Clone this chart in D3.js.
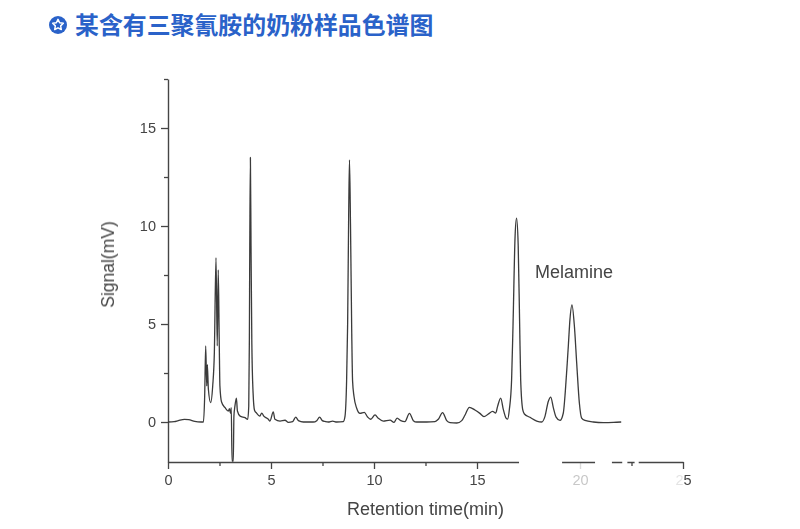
<!DOCTYPE html>
<html><head><meta charset="utf-8">
<script src="https://cdn.jsdelivr.net/npm/d3@7"></script>
<style>html,body{margin:0;padding:0;background:#fff}svg{display:block}</style>
</head><body><svg id="c" width="800" height="529"></svg>
<script>
const titleText = "某含有三聚氰胺的奶粉样品色谱图";
const xLabel = "Retention time(min)";
const yLabel = "Signal(mV)";
const peakName = "Melamine";
const xMajor = [0,5,10,15,20,25];
const xMinor = [2.5,7.5,12.5,17.5,22.5];
const yMajor = [0,5,10,15];
const yMinor = [2.5,7.5,12.5,17.5];
const axisGaps = [[17.04,19.13],[20.73,21.55],[22.05,22.3],[22.65,22.85]];
const times = [0,0.3,0.5,0.8,1.0,1.3,1.6,1.72,1.78,1.83,1.88,1.91,1.96,2.07,2.17,2.25,2.33,2.39,2.44,2.49,2.52,2.6,2.77,2.93,2.98,3.04,3.07,3.11,3.17,3.2,3.25,3.32,3.37,3.5,3.74,3.87,3.92,3.95,3.97,4.0,4.03,4.07,4.13,4.2,4.3,4.45,4.55,4.65,4.87,4.95,5.11,5.19,5.44,5.68,5.84,6.05,6.2,6.33,6.57,7.05,7.22,7.36,7.49,7.62,7.78,7.99,8.19,8.51,8.59,8.67,8.72,8.77,8.81,8.86,8.92,8.96,9.03,9.16,9.32,9.53,9.68,9.84,10.05,10.21,10.45,10.78,10.97,11.12,11.3,11.5,11.72,11.91,12.07,12.55,12.96,13.12,13.33,13.53,13.69,14.02,14.26,14.42,14.63,14.9,15.14,15.34,15.55,15.76,15.91,16.0,16.15,16.28,16.41,16.49,16.57,16.68,16.75,16.85,16.92,17.0,17.07,17.12,17.22,17.3,17.57,17.9,18.14,18.3,18.46,18.58,18.71,18.84,19.03,19.19,19.29,19.38,19.44,19.51,19.61,19.73,19.84,19.97,20.08,20.24,20.65,21.14,21.62,22.0];
const signal = [0,0.02,0.07,0.13,0.12,0.03,0,0,1.3,3.88,1.84,2.93,1.67,0.99,1.84,3.54,8.38,3.88,7.76,3.88,1.84,1.02,0.73,0.56,0.68,0.44,0.73,-2,-2,0.3,0.82,1.22,0.56,0.3,0.22,0.14,0.8,4.2,9,13.5,9,4,1.5,0.6,0.45,0.3,0.45,0.3,0.14,0.05,0.52,0.14,0.05,0.09,-0.02,0.02,0.25,0.07,0,0,0.07,0.25,0.07,0.03,0,0.05,0,0.02,0.27,2.1,5,10.5,13.37,10,4.5,2.1,1.3,0.7,0.44,0.49,0.27,0.14,0.36,0.19,0.05,0.1,-0.02,0.2,0.07,0.02,0.44,0.07,0,0,0.02,0.14,0.48,0.07,-0.03,-0.05,0.07,0.36,0.75,0.61,0.44,0.27,0.41,0.54,0.46,0.8,1.22,0.63,0.2,0.15,0.63,2.16,5,9.5,10.4,9,5,2.16,0.63,0.41,0.24,0.05,0,0.29,1.05,1.27,0.71,0.25,0.08,0.46,1.6,3,4,5.2,5.98,4.86,3,0.96,0.2,0.08,0,-0.03,-0.02,0];

const svg = d3.select("#c");
const x = d3.scaleLinear().domain([0,25]).range([168,683]);
const y = d3.scaleLinear().domain([-2.04,17.5]).range([462,79]);
const ink = "#444", txt = "#444", font = "'Liberation Sans',Arial,sans-serif";

svg.append("defs").append("filter").attr("id","soft")
  .append("feGaussianBlur").attr("stdDeviation",0.35);

// title
const ic = svg.append("g").attr("transform","translate(58,25)");
ic.append("circle").attr("r",9).attr("fill","#2a62c9");
const star = d3.range(10).map(i=>{const r=i%2?2.8:5.6,a=-Math.PI/2+i*Math.PI/5;return [r*Math.cos(a),r*Math.sin(a)];});
ic.append("path").attr("d",d3.line().curve(d3.curveLinearClosed)(star)).attr("fill","none").attr("stroke","#fff").attr("stroke-width",1.5).attr("stroke-linejoin","round");
svg.append("text").attr("x",75).attr("y",34).text(titleText)
  .attr("font-family","'Noto Sans CJK SC'").attr("font-weight",700).attr("font-size",23.9).attr("fill","#2a62c9");

const plot = svg.append("g").attr("filter","url(#soft)");

// axes
function style(g){
  g.selectAll("path").attr("stroke",ink).attr("stroke-width",1.4);
  g.selectAll("line").attr("stroke",ink).attr("stroke-width",1.3);
  g.selectAll("text").attr("font-family",font).attr("font-size",14.5).attr("fill",txt);
}
const gx = plot.append("g").attr("transform",`translate(0,${y.range()[0]})`)
  .call(d3.axisBottom(x).tickValues(xMajor).tickFormat(d3.format("d")).tickSize(7).tickSizeOuter(0).tickPadding(6)); style(gx);
const gxm = plot.append("g").attr("transform",`translate(0,${y.range()[0]})`)
  .call(d3.axisBottom(x).tickValues(xMinor).tickFormat("").tickSize(4).tickSizeOuter(0)); style(gxm);
gxm.select(".domain").remove();
const gy = plot.append("g").attr("transform",`translate(${x(0)},0)`)
  .call(d3.axisLeft(y).tickValues(yMajor).tickFormat(d3.format("d")).tickSize(7).tickSizeOuter(0).tickPadding(5)); style(gy);
const gym = plot.append("g").attr("transform",`translate(${x(0)},0)`)
  .call(d3.axisLeft(y).tickValues(yMinor).tickFormat("").tickSize(4).tickSizeOuter(0)); style(gym);
gym.select(".domain").remove();

// worn-away parts of the bottom axis
plot.append("g").selectAll("rect").data(axisGaps).join("rect")
  .attr("x",d=>x(d[0])).attr("width",d=>x(d[1])-x(d[0]))
  .attr("y",y.range()[0]-2).attr("height",10).attr("fill","#fff");
gx.selectAll(".tick").filter(d=>d===20).select("line").attr("stroke-opacity",0.2);
gx.selectAll(".tick").filter(d=>d===20).select("text").attr("fill-opacity",0.3);
const t25 = gx.selectAll(".tick").filter(d=>d===25).select("text").text(null);
t25.append("tspan").attr("fill-opacity",0.15).text("2");
t25.append("tspan").text("5");

// trace
plot.append("path").datum(times.map((t,i)=>[t,signal[i]]))
  .attr("d",d3.line().x(d=>x(d[0])).y(d=>y(d[1])).curve(d3.curveMonotoneX))
  .attr("fill","none").attr("stroke","#3a3a3a").attr("stroke-width",1.3).attr("stroke-linejoin","round");

// labels
plot.append("text").attr("x",425.5).attr("y",515).attr("text-anchor","middle").text(xLabel)
  .attr("font-family",font).attr("font-size",18).attr("fill",txt);
plot.append("text").attr("transform","translate(114,264.5) rotate(-90)").attr("text-anchor","middle").text(yLabel)
  .attr("font-family",font).attr("font-size",17.5).attr("fill",txt);
plot.append("text").attr("x",535).attr("y",278).text(peakName)
  .attr("font-family",font).attr("font-size",18).attr("fill",txt);
</script></body></html>
